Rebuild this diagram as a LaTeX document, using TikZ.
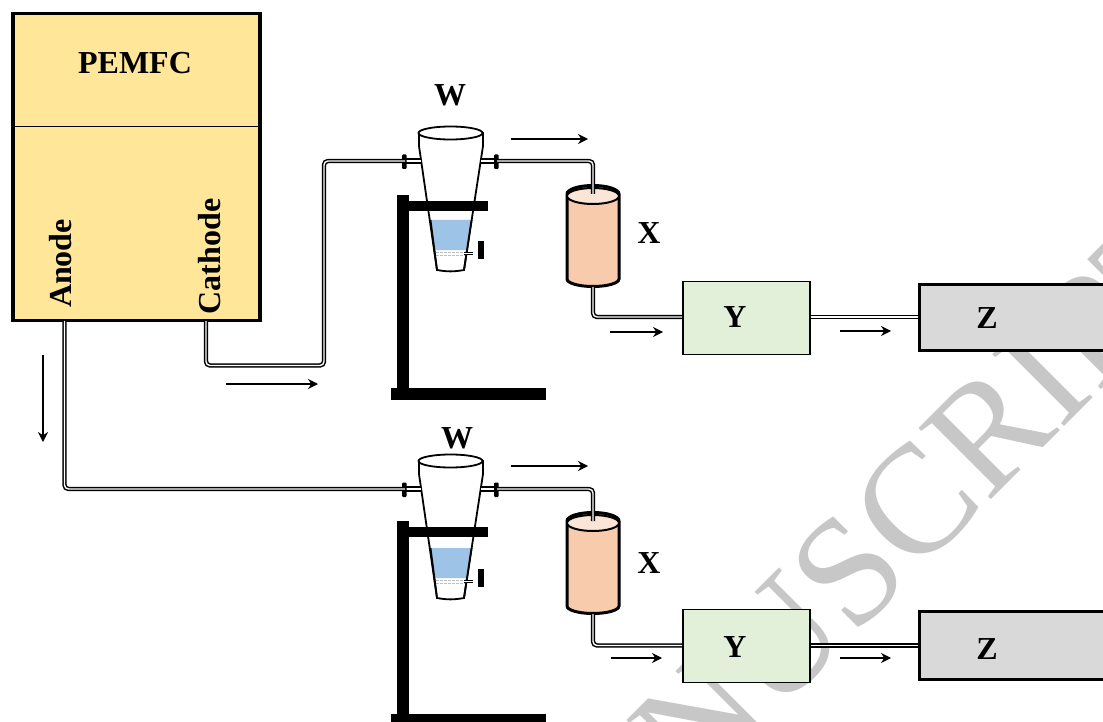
\documentclass[tikz,border=0pt]{standalone}
\usepackage{fontspec}
\setmainfont{Liberation Serif}
\usetikzlibrary{arrows.meta}
\tikzset{
  pipe/.style={draw=black,line width=1.5pt,double=white,double distance=1.4pt,rounded corners=4pt},
  stub/.style={draw=black,line width=1.9pt,double=white,double distance=2.2pt},
  flow/.style={draw=black,line width=1.3pt,-{Stealth[length=10pt,width=10pt]}},
  lab/.style={font=\bfseries\fontsize{32}{32}\selectfont,inner sep=0pt,text=black},
  boxy/.style={draw=black,anchor=center,inner sep=0pt},
  barr/.style={fill=black,draw=none},
  glass/.style={draw=black,line width=1.8pt,fill=white},
  wm/.style={font=\fontsize{155}{155}\selectfont,text=black!22,inner sep=0pt}
}
\newcommand{\funnelrig}[3]{% #1 separator dy, #2 stand dy, #3 prefix
\begin{scope}[name prefix=#3]
 \begin{scope}[shift={(0,#2)}]
  \path[barr] (391,388) rectangle (546,400);
  \path[barr] (397,195) rectangle (409,394);
 \end{scope}
 \begin{scope}[shift={(0,#1)}]
  \path[glass] (419,133) -- (419,146) -- (437,270) to[bend right=10] (464,270) -- (483,146) -- (483,133) -- cycle;
  \fill[lq] (431,220) -- (471,220) -- (467,250) -- (435,250) -- cycle;
  \draw[white!75!black,line width=.8pt,dash pattern=on 2.5pt off 1.5pt] (436,252) -- (466,252);
  \draw[white!75!black,line width=.8pt,dash pattern=on 2.5pt off 1.5pt] (436,255) -- (466,255);
  \draw[black,line width=1.8pt] (430.5,220) -- (437,270) (471.5,220) -- (464,270);
  \path[glass] (450.5,133) ellipse [x radius=32,y radius=6.5];
  \coordinate (sepin) at (405,161);
  \coordinate (sepout) at (497,161);
  \draw[stub] (405,161) -- (421,161);
  \draw[stub] (481,161) -- (497,161);
  \path[barr,rounded corners=1pt] (402,154.5) rectangle (406.5,169);
  \path[barr,rounded corners=1pt] (494,154.5) rectangle (498.5,169);
  \draw[pipe,rounded corners=0pt,line width=1.3pt,double distance=1pt] (464,253.5) -- (473,253.5);
  \path[barr] (478,241) rectangle (484,259);
 \end{scope}
 \begin{scope}[shift={(0,#2)}]
  \path[barr] (409,201) rectangle (488,211);
 \end{scope}
\end{scope}
}
\newcommand{\cyl}[2]{% #1 dy, #2 name
 \begin{scope}[shift={(0,#1)}]
  \path[draw=black,line width=3pt,fill=cyl] (567,194) -- (567,279) arc[start angle=180,end angle=0,x radius=26,y radius=7.5] -- (619,194) arc[start angle=0,end angle=-180,x radius=26,y radius=8.5] -- cycle;
  \path[draw=black,line width=2pt,fill=cyltop] (593,196) ellipse [x radius=26,y radius=8];
  \coordinate (#2top) at (593,194);
  \coordinate (#2bot) at (593,287);
 \end{scope}
}
\definecolor{lq}{HTML}{9DC3E6}
\definecolor{cyl}{HTML}{F8CBAD}
\definecolor{cyltop}{HTML}{FBE5D6}
\definecolor{fc}{HTML}{FFE699}
\definecolor{yb}{HTML}{E2F0D9}
\definecolor{zb}{HTML}{D9D9D9}
\begin{document}
\begin{tikzpicture}[x=1pt,y=-1pt]
\useasboundingbox (0,0) rectangle (1103,722);
\clip (0,0) rectangle (1103,722);
% watermark
\node[wm,rotate=45,anchor=base west] (mark) at (695,796) {NUSCRIPT};
% fuel cell
\node[boxy,fill=fc,line width=3.5pt,minimum width=247pt,minimum height=307pt] (pemfc) at (136.5,167) {};
\coordinate (divl) at (14,127);
\coordinate (divr) at (259,127);
\draw[black,line width=1pt] (divl) -- (divr);
\node[lab] (pemfct) at (135,63) {PEMFC};
\node[lab,rotate=90] (anode) at (61,263.5) {Anode};
\node[lab,rotate=90] (cathode) at (209.5,256.5) {Cathode};
\coordinate (anodeout) at (64.5,321);
\coordinate (cathout) at (206,321);
% rigs
\funnelrig{0}{0}{a}
\funnelrig{328}{326}{b}
\cyl{0}{cu}
\cyl{327}{cl}
% pipes
\coordinate (c1) at (206,365.5);
\coordinate (c2) at (324,365.5);
\coordinate (c3) at (324,161);
\draw[pipe] (cathout) -- (c1) -- (c2) -- (c3) -- (asepin);
\coordinate (a1) at (64.5,489);
\draw[pipe] (anodeout) -- (a1) -- (bsepin);
\coordinate (u1) at (593,161);
\draw[pipe] (asepout) -- (u1) -- (cutop);
\coordinate (l1) at (593,489);
\draw[pipe] (bsepout) -- (l1) -- (cltop);
% boxes
\node[boxy,fill=yb,line width=1.8pt,minimum width=127pt,minimum height=73pt] (yu) at (746.5,318) {};
\node[boxy,fill=yb,line width=1.8pt,minimum width=127pt,minimum height=73pt] (yl) at (746.5,646) {};
\node[boxy,fill=zb,line width=3pt,minimum width=240pt,minimum height=66pt] (zu) at (1039.5,317.5) {};
\node[boxy,fill=zb,line width=3pt,minimum width=240pt,minimum height=68pt] (zl) at (1039.5,645.5) {};
\coordinate (u2) at (593,317);
\coordinate (l2) at (593,645.5);
\draw[pipe] (cubot) -- (u2) -- (yu.west |- u2);
\draw[pipe] (clbot) -- (l2) -- (yl.west |- l2);
\coordinate (u3) at (yu.east |- u2);
\coordinate (l3) at (yl.east |- l2);
\draw[pipe] (u3) -- (zu.west |- u3);
\draw[pipe] (l3) -- (zl.west |- l3);
% labels
\node[lab] (wu) at (450,95) {W};
\node[lab] (wl) at (457,438) {W};
\node[lab] (xu) at (649,233) {X};
\node[lab] (xl) at (649,563) {X};
\node[lab] (yut) at (735,317) {Y};
\node[lab] (ylt) at (735,647) {Y};
\node[lab] (zut) at (987,318.5) {Z};
\node[lab] (zlt) at (987,649) {Z};
% flow arrows
\foreach \n/\xa/\ya/\xb/\yb in {f1/226/384/318/384,f2/43/355/43/442,f3/511/139/588/139,f4/511/466/588/466,f5/610/332/663/332,f6/840/331/891/331,f7/611/658/662/658,f8/840/658/891/658}{
  \coordinate (\n s) at (\xa,\ya);
  \coordinate (\n e) at (\xb,\yb);
  \draw[flow] (\n s) -- (\n e);
}
\end{tikzpicture}
\end{document}
